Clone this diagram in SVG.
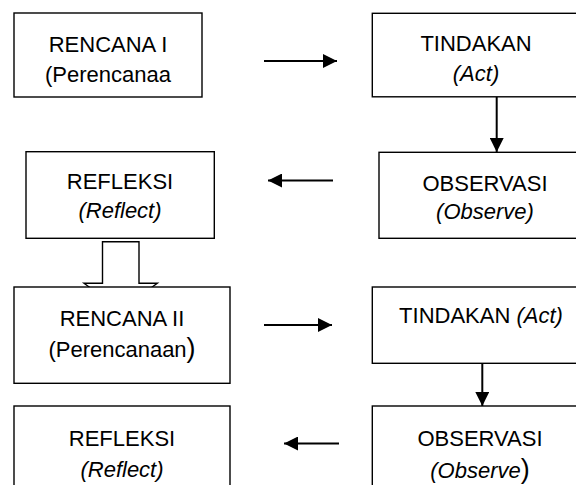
<svg xmlns="http://www.w3.org/2000/svg" width="576" height="485" viewBox="0 0 576 485">
<defs>
<style>
.box{fill:#fff;stroke:#000;stroke-width:1.4}
.t{font-family:"Liberation Sans",Arial,sans-serif;font-size:22px;fill:#000;text-anchor:middle}
.i{font-style:italic}
.c{fill:none;stroke:#000;stroke-width:2}
.blk{fill:#fff;stroke:#000;stroke-width:1.4}
</style>
<marker id="ah" viewBox="0 0 10 10" refX="10" refY="5" markerWidth="7.5" markerHeight="7" markerUnits="strokeWidth" orient="auto">
<path d="M0,0 L10,5 L0,10 z" fill="#000"/>
</marker>
</defs>
<rect width="576" height="485" fill="#fff"/>
<g id="connectors">
<line class="c" x1="264" y1="61" x2="337" y2="61" marker-end="url(#ah)"/>
<line class="c" x1="333" y1="180.5" x2="268" y2="180.5" marker-end="url(#ah)"/>
<line class="c" x1="264" y1="325" x2="332" y2="325" marker-end="url(#ah)"/>
<line class="c" x1="339" y1="443.5" x2="284" y2="443.5" marker-end="url(#ah)"/>
<line class="c" x1="496.7" y1="97" x2="496.7" y2="152" marker-end="url(#ah)"/>
<line class="c" x1="482.3" y1="363.5" x2="482.3" y2="406" marker-end="url(#ah)"/>
<polygon class="blk" points="102.5,241.7 139,241.7 139,283.3 157.3,283.3 120.7,310 84,283.3 102.5,283.3"/>
</g>
<g id="rencana1">
<rect class="box" x="14" y="13" width="188" height="84"/>
<text class="t" x="108" y="51.5">RENCANA I</text>
<text class="t" x="108" y="81.5">(Perencanaa</text>
</g>
<g id="tindakan1">
<rect class="box" x="372.3" y="13.3" width="208" height="83.5"/>
<text class="t" x="476" y="51">TINDAKAN</text>
<text class="t i" x="476" y="81">(Act)</text>
</g>
<g id="observasi1">
<rect class="box" x="379" y="152.3" width="212" height="86"/>
<text class="t" x="485" y="190.7">OBSERVASI</text>
<text class="t i" x="485" y="219.3">(Observe)</text>
</g>
<g id="refleksi1">
<rect class="box" x="26" y="151.7" width="188.3" height="86.6"/>
<text class="t" x="120" y="189.3">REFLEKSI</text>
<text class="t i" x="120" y="218.3">(Reflect)</text>
</g>
<g id="rencana2">
<rect class="box" x="14" y="287" width="216" height="96.3"/>
<text class="t" x="122" y="325.7">RENCANA II</text>
<text class="t" x="122" y="356.7">(Perencanaan<tspan font-size="27">)</tspan></text>
</g>
<g id="tindakan2">
<rect class="box" x="372.3" y="287" width="218" height="76.3"/>
<text class="t" x="481" y="322.7">TINDAKAN <tspan class="i">(Act)</tspan></text>
</g>
<g id="refleksi2">
<rect class="box" x="14" y="406" width="216" height="90"/>
<text class="t" x="122" y="446">REFLEKSI</text>
<text class="t i" x="122" y="476.5">(Reflect)</text>
</g>
<g id="observasi2">
<rect class="box" x="372.3" y="406" width="218" height="90"/>
<text class="t" x="480" y="446">OBSERVASI</text>
<text class="t" x="480" y="478"><tspan class="i">(Observe</tspan><tspan font-size="27">)</tspan></text>
</g>
</svg>
